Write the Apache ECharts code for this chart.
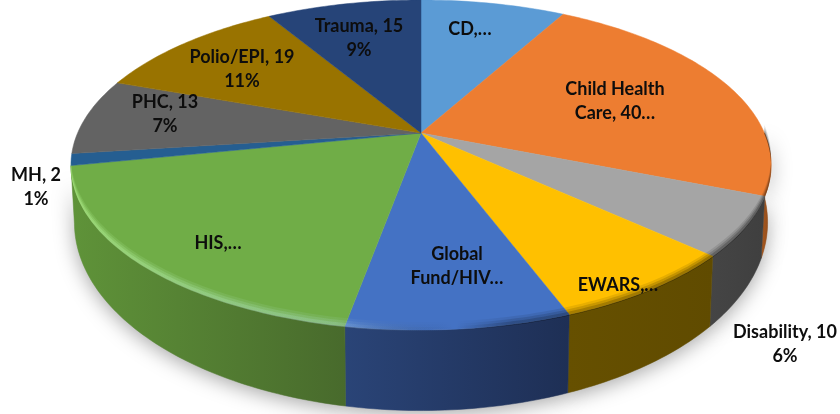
<!DOCTYPE html>
<html><head><meta charset="utf-8">
<style>html,body{margin:0;padding:0;background:#fff}#c{width:840px;height:414px}</style>
<script src="https://cdn.jsdelivr.net/npm/echarts@6/dist/echarts.min.js"></script>
</head><body><div id="c"></div>
<script>
const categories = ['CD','Child Health Care','Disability','EWARS','Global Fund/HIV','HIS','MH','PHC','Polio/EPI','Trauma'];
const values = [14,40,10,13,15,33,2,13,19,15];
const labelTexts = ['CD,…','Child Health\nCare, 40…','Disability, 10\n6%','EWARS,…','Global\nFund/HIV…','HIS,…','MH, 2\n1%','PHC, 13\n7%','Polio/EPI, 19\n11%','Trauma, 15\n9%'];
const labelCenters = [[470,29],[615,101],[785,344],[618,285],[457,266],[218,243],[36,187],[165,114],[242,69],[359,38]];
const topColors = ['#5B9BD5','#ED7D31','#A5A5A5','#FFC000','#4472C4','#70AD47','#255E91','#636363','#997300','#264478'];
const wallColors = [['#365d80','#365d80'],['#a8591f','#8e4a1a'],['#454545','#3f3f3f'],['#665000','#604b00'],['#2a4477','#1e2f55'],['#5f9339','#486a2c'],['#1a4266','#1a4266'],['#3c3c3c','#3c3c3c'],['#5c4500','#5c4500'],['#172a48','#172a48']];

const total = values.reduce((a,b)=>a+b,0);
const starts = []; let acc = 0;
values.forEach(v=>{starts.push(acc/total*360); acc+=v;});

const K=0.194, CX=421, TY=133, TA=343.4, TB=158.8, BY=186, BA=340, BB=181;
function proj(deg,s,y0,a,b){
  const r=deg*Math.PI/180, u=Math.sin(r)*s, v=-Math.cos(r)*s, w=1-K*v;
  return [CX+a*u/w, y0+b*v/w];
}
const topPt=d=>proj(d,1,TY,TA,TB);
const botPt=d=>proj(d,1,BY,BA,BB);
function arc(a0,a1,fn){const p=[];const n=Math.max(2,Math.ceil(Math.abs(a1-a0)));for(let i=0;i<=n;i++)p.push(fn(a0+(a1-a0)*i/n));return p;}
function range(i){return [starts[i],starts[i]+values[i]/total*360];}
function frontRange(i){const [a,b]=range(i);const a0=Math.max(a,90),a1=Math.min(b,259);return a1-a0>1?[a0,a1]:null;}
function wallPoly(i){const f=frontRange(i);if(!f)return null;return arc(f[0],f[1],topPt).concat(arc(f[1],f[0],botPt));}

const rimGrad={type:'linear',global:true,x:70,y:0,x2:770,y2:0,colorStops:[
 {offset:0,color:'rgba(190,255,150,0.7)'},{offset:0.38,color:'rgba(190,230,255,0.4)'},
 {offset:0.55,color:'rgba(0,0,0,0)'},{offset:0.63,color:'rgba(0,0,0,0.4)'},{offset:1,color:'rgba(0,0,0,0.55)'}]};

const baseData=categories.map((c,i)=>({name:c,value:[i,values[i]]}));
const none={coordinateSystem:'none',silent:true,animation:false,data:baseData,encode:{}};

const option={
 animation:false,
 backgroundColor:'#fff',
 tooltip:{show:false},
 series:[
 Object.assign({},none,{type:'custom',name:'shadow',z:1,renderItem(p,api){
   const poly=wallPoly(api.value(0)); if(!poly) return {type:'group',children:[]};
   return {type:'polygon',shape:{points:poly},style:{fill:'#bbb',shadowBlur:20,shadowColor:'rgba(0,0,0,0.35)',shadowOffsetY:4}};
 }}),
 Object.assign({},none,{type:'custom',name:'walls',z:2,renderItem(p,api){
   const i=api.value(0),poly=wallPoly(i); if(!poly) return {type:'group',children:[]};
   const fill={type:'linear',x:0,y:0,x2:1,y2:0,colorStops:[{offset:0,color:wallColors[i][0]},{offset:1,color:wallColors[i][1]}]};
   return {type:'polygon',shape:{points:poly},style:{fill:fill,stroke:fill,lineWidth:0.5}};
 }}),
 Object.assign({},none,{type:'custom',name:'tops',z:3,renderItem(p,api){
   const i=api.value(0),[a,b]=range(i);
   const pts=[[CX,TY]].concat(arc(a,b,topPt));
   return {type:'polygon',shape:{points:pts},style:{fill:topColors[i],stroke:topColors[i],lineWidth:0.5}};
 }}),
 Object.assign({},none,{type:'custom',name:'rim',z:4,renderItem(p,api){
   const f=frontRange(api.value(0)); if(!f) return {type:'group',children:[]};
   return {type:'group',children:[[8,0.2],[5.5,0.3],[3,0.4]].map(([h,o])=>{
     const outer=arc(f[0],f[1],d=>{const q=topPt(d);return [q[0],q[1]+1];});
     const inner=arc(f[1],f[0],d=>{const q=topPt(d);return [q[0],q[1]-h];});
     return {type:'polygon',shape:{points:outer.concat(inner)},style:{fill:rimGrad,opacity:o}};
   })};
 }}),
 Object.assign({},none,{type:'custom',name:'labels',z:5,renderItem(p,api){
   const i=api.value(0),c=labelCenters[i];
   return {type:'text',x:c[0],y:c[1],style:{text:labelTexts[i],fill:'#0d0d0d',font:'bold 18px Lato',align:'center',verticalAlign:'middle',lineHeight:24}};
 }})
 ]
};
echarts.init(document.getElementById('c'),null,{renderer:'canvas'}).setOption(option);
</script></body></html>
